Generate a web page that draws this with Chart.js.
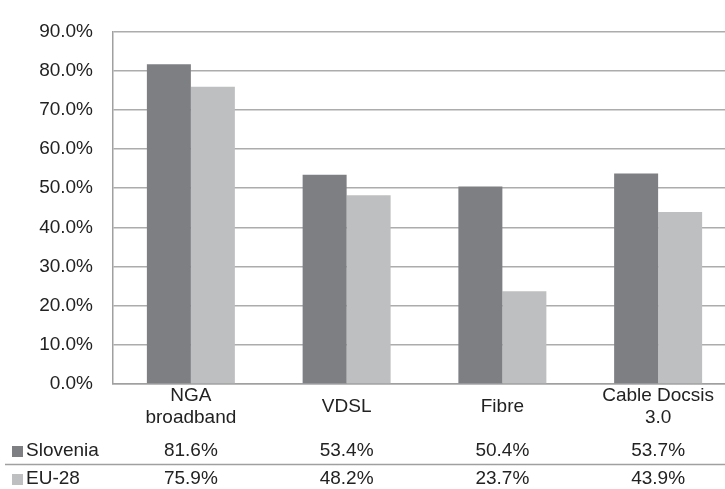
<!DOCTYPE html>
<html>
<head>
<meta charset="utf-8">
<script src="https://cdn.jsdelivr.net/npm/chart.js@4/dist/chart.umd.min.js"></script>
<style>
  html, body { margin: 0; padding: 0; background: #fff; }
  #clip { width: 725px; height: 489px; overflow: hidden; }
  #wrap { width: 736px; height: 489px; position: relative; }
</style>
</head>
<body>
<div id="clip"><div id="wrap"><canvas id="ngaChart"></canvas></div></div>
<script>
const categories = [['NGA', 'broadband'], 'VDSL', 'Fibre', ['Cable Docsis', '3.0']];
const seriesNames = ['Slovenia', 'EU-28'];
const slovenia = [81.6, 53.4, 50.4, 53.7];
const eu28 = [75.9, 48.2, 23.7, 43.9];
const yMax = 90;
const yStep = 10;

const FONT = "'Liberation Sans', Arial, sans-serif";
const FONT_SIZE = 19;
const TEXT = '#222222';
const colors = ['#7e7f83', '#bebfc1'];

// data table under the x axis
const tablePlugin = {
    id: 'dataTable',
    afterDraw(chart) {
        const ctx = chart.ctx;
        const x = chart.scales.x;
        const rowY = [451, 479];
        ctx.save();
        ctx.font = FONT_SIZE + 'px ' + FONT;
        ctx.textBaseline = 'middle';

        // separator between rows
        ctx.strokeStyle = '#a0a0a0';
        ctx.lineWidth = 1.5;
        ctx.beginPath();
        ctx.moveTo(5, 464.5);
        ctx.lineTo(chart.width, 464.5);
        ctx.stroke();

        chart.data.datasets.forEach((ds, r) => {
            ctx.fillStyle = ds.backgroundColor;
            ctx.fillRect(12, rowY[r] - 5, 11, 11);
            ctx.fillStyle = TEXT;
            ctx.textAlign = 'left';
            ctx.fillText(ds.label, 26, rowY[r]);
            ctx.textAlign = 'center';
            ds.data.forEach((v, i) => {
                ctx.fillText(v.toFixed(1) + '%', x.getPixelForValue(i), rowY[r]);
            });
        });
        ctx.restore();
    }
};

const ctx = document.getElementById('ngaChart').getContext('2d');

new Chart(ctx, {
    type: 'bar',
    data: {
        labels: categories,
        datasets: [{
            label: seriesNames[0],
            data: slovenia,
            backgroundColor: colors[0]
        }, {
            label: seriesNames[1],
            data: eu28,
            backgroundColor: colors[1]
        }]
    },
    options: {
        responsive: true,
        maintainAspectRatio: false,
        animation: false,
        categoryPercentage: 0.565,
        barPercentage: 1,
        layout: {padding: {top: 23, left: 0, right: 0, bottom: 0}},
        scales: {
            x: {
                grid: {display: false},
                border: {color: '#a0a0a0', width: 1.5},
                ticks: {
                    color: TEXT,
                    font: {family: FONT, size: FONT_SIZE, lineHeight: 1.15},
                    padding: 4,
                    crossAlign: 'center',
                    maxRotation: 0,
                    autoSkip: false
                },
                afterFit: s => { s.height = 105; }
            },
            y: {
                min: 0,
                max: yMax,
                grid: {color: '#acacac', lineWidth: 1.5, drawTicks: false},
                border: {color: '#a0a0a0', width: 1.5},
                ticks: {
                    stepSize: yStep,
                    padding: 20,
                    color: TEXT,
                    font: {family: FONT, size: FONT_SIZE},
                    callback: v => v.toFixed(1) + '%'
                },
                afterFit: s => { s.width = 113; }
            }
        },
        plugins: {
            legend: {display: false},
            tooltip: {enabled: false}
        }
    },
    plugins: [tablePlugin]
});
</script>
</body>
</html>
